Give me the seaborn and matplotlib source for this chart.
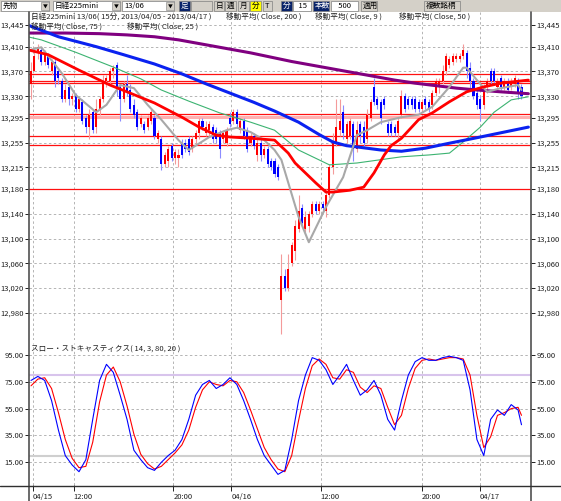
import numpy as np
import pandas as pd
import seaborn as sns
import matplotlib.pyplot as plt
from matplotlib.patches import Rectangle
from matplotlib.lines import Line2D

# 15 min bars of 日経225mini 13/06, visible window 04/15 - 04/17
opens = [13350, 13370, 13400, 13405, 13385, 13395, 13370, 13385, 13370, 13355,
         13325, 13345, 13325, 13330, 13310, 13320, 13295, 13280, 13305, 13280,
         13310, 13325, 13355, 13355, 13370, 13380, 13345, 13325, 13350, 13340,
         13315, 13305, 13285, 13285, 13280, 13290, 13295, 13260, 13260, 13220,
         13225, 13250, 13230, 13230, 13255, 13255, 13260, 13245, 13260, 13270,
         13290, 13270, 13275, 13280, 13275, 13270, 13260, 13255, 13295, 13290,
         13305, 13275, 13290, 13275, 13255, 13265, 13235, 13255, 13235, 13245,
         13225, 13225, 13215, 13000, 13040, 13020, 13060, 13080, 13115, 13150,
         13115, 13120, 13140, 13155, 13145, 13155, 13145, 13170, 13215, 13255,
         13275, 13305, 13260, 13265, 13285, 13245, 13285, 13280, 13260, 13295,
         13345, 13325, 13320, 13325, 13285, 13285, 13280, 13270, 13300, 13330,
         13325, 13325, 13325, 13320, 13310, 13325, 13320, 13315, 13335, 13345,
         13355, 13370, 13380, 13385, 13390, 13390, 13395, 13400, 13375, 13355,
         13335, 13325, 13315, 13345, 13370, 13370, 13345, 13360, 13345, 13355,
         13345, 13350, 13355, 13345]
highs = [13385, 13410, 13415, 13410, 13405, 13400, 13390, 13390, 13375, 13360,
         13350, 13350, 13335, 13335, 13325, 13325, 13300, 13310, 13310, 13325,
         13330, 13365, 13365, 13375, 13380, 13385, 13350, 13355, 13365, 13350,
         13325, 13310, 13300, 13290, 13300, 13310, 13300, 13275, 13265, 13240,
         13250, 13255, 13245, 13245, 13260, 13260, 13265, 13265, 13275, 13295,
         13295, 13290, 13290, 13285, 13280, 13275, 13275, 13280, 13305, 13310,
         13310, 13295, 13295, 13280, 13270, 13270, 13265, 13260, 13250, 13250,
         13230, 13230, 13220, 13075, 13050, 13075, 13095, 13130, 13170, 13155,
         13145, 13145, 13160, 13160, 13160, 13160, 13180, 13220, 13270, 13325,
         13325, 13315, 13290, 13295, 13290, 13290, 13290, 13290, 13310, 13325,
         13360, 13330, 13325, 13330, 13290, 13290, 13285, 13295, 13340, 13335,
         13330, 13330, 13330, 13325, 13325, 13330, 13325, 13340, 13360, 13360,
         13380, 13400, 13395, 13400, 13400, 13400, 13415, 13405, 13385, 13360,
         13345, 13330, 13350, 13360, 13375, 13375, 13360, 13365, 13360, 13360,
         13360, 13365, 13360, 13350]
lows = [13325, 13370, 13390, 13380, 13380, 13375, 13365, 13345, 13350, 13320,
        13320, 13315, 13315, 13305, 13305, 13285, 13270, 13260, 13270, 13270,
        13300, 13320, 13345, 13350, 13360, 13330, 13290, 13320, 13330, 13305,
        13295, 13275, 13280, 13270, 13275, 13285, 13260, 13255, 13210, 13215,
        13215, 13225, 13220, 13215, 13230, 13240, 13235, 13240, 13255, 13260,
        13275, 13265, 13265, 13255, 13255, 13230, 13255, 13250, 13280, 13285,
        13280, 13270, 13260, 13240, 13250, 13245, 13225, 13225, 13230, 13215,
        13210, 13200, 13195, 12945, 13015, 13015, 13055, 13065, 13110, 13120,
        13110, 13110, 13135, 13140, 13140, 13145, 13135, 13165, 13205, 13250,
        13265, 13260, 13255, 13260, 13225, 13240, 13255, 13250, 13255, 13290,
        13315, 13310, 13285, 13310, 13265, 13265, 13265, 13260, 13295, 13305,
        13310, 13310, 13305, 13305, 13305, 13310, 13305, 13310, 13330, 13335,
        13350, 13365, 13375, 13380, 13385, 13385, 13390, 13360, 13340, 13325,
        13310, 13290, 13310, 13335, 13350, 13350, 13340, 13340, 13340, 13335,
        13340, 13345, 13325, 13325]
closes = [13370, 13395, 13410, 13385, 13400, 13380, 13385, 13355, 13360, 13325,
          13340, 13325, 13330, 13310, 13325, 13290, 13280, 13300, 13275, 13310,
          13325, 13355, 13360, 13370, 13375, 13345, 13325, 13350, 13335, 13310,
          13300, 13280, 13295, 13275, 13295, 13305, 13265, 13270, 13220, 13235,
          13245, 13230, 13240, 13235, 13235, 13245, 13240, 13260, 13270, 13290,
          13280, 13280, 13285, 13260, 13260, 13245, 13270, 13275, 13285, 13305,
          13285, 13290, 13265, 13245, 13265, 13250, 13255, 13235, 13245, 13220,
          13215, 13205, 13200, 13040, 13020, 13050, 13090, 13120, 13145, 13125,
          13135, 13140, 13155, 13145, 13155, 13150, 13170, 13215, 13255, 13280,
          13290, 13270, 13285, 13290, 13245, 13275, 13265, 13255, 13300, 13320,
          13320, 13315, 13295, 13315, 13270, 13270, 13270, 13290, 13330, 13310,
          13315, 13315, 13310, 13310, 13320, 13315, 13310, 13335, 13355, 13355,
          13370, 13395, 13390, 13395, 13395, 13395, 13405, 13370, 13355, 13330,
          13315, 13310, 13345, 13355, 13355, 13355, 13355, 13345, 13355, 13340,
          13355, 13360, 13335, 13330]

# moving averages at some bars
ma200_idx = [-1, 10, 20, 28, 36, 43, 50, 57, 64, 70, 76, 82, 88, 94, 100, 106, 112, 118, 124, 130, 137, 145]
ma200 = [13432, 13432, 13431, 13429, 13426, 13421, 13414, 13407, 13400, 13393, 13386,
         13380, 13374, 13368, 13362, 13356, 13351, 13347, 13343, 13340, 13337, 13334]
ma75_idx = [-1, 8, 19, 27, 36, 44, 51, 58, 65, 71, 78, 84, 88, 92, 95, 102, 108, 115, 122, 131, 145]
ma75 = [13445, 13426, 13410, 13397, 13382, 13366, 13350, 13335, 13320, 13306, 13288, 13268,
        13256, 13250, 13248, 13243, 13241, 13246, 13254, 13264, 13280]
ma50_idx = [-1, 3, 13, 24, 32, 38, 46, 55, 64, 71, 78, 87, 95, 108, 116, 122, 126, 131, 135, 140, 145]
ma50 = [13426, 13421, 13401, 13377, 13358, 13340, 13322, 13303, 13288, 13275, 13243, 13219,
        13222, 13232, 13235, 13238, 13256, 13280, 13304, 13324, 13329]
ma25_idx = [-1, 5, 14, 23, 28, 36, 44, 49, 54, 58, 64, 71, 75, 77, 80, 83, 86, 88, 93, 97,
            100, 103, 105, 108, 113, 117, 122, 127, 132, 137, 145]
ma25 = [13405, 13397, 13372, 13348, 13337, 13319, 13296, 13280, 13267, 13264, 13262, 13259,
        13238, 13222, 13206, 13190, 13175, 13175, 13178, 13183, 13206, 13235, 13250, 13262,
        13292, 13303, 13321, 13337, 13345, 13351, 13356]
ma9_idx = [0, 3, 6, 9, 13, 19, 22, 26, 30, 34, 38, 43, 46, 52, 57, 60, 64, 68, 71, 73, 78, 81,
           86, 91, 95, 98, 102, 108, 113, 117, 122, 126, 127, 130, 133, 137, 142, 143]
ma9 = [13405, 13409, 13388, 13367, 13332, 13304, 13316, 13348, 13343, 13316, 13292, 13259, 13243,
       13264, 13275, 13279, 13272, 13259, 13243, 13227, 13135, 13094, 13151, 13199, 13267, 13275,
       13288, 13296, 13300, 13313, 13345, 13376, 13376, 13356, 13337, 13343, 13348, 13340]

# slow stochastic (14, 3)
stoch_idx = list(range(0, 143, 2)) + [143]
stoch_k = [76, 79, 76, 61, 39, 20, 13, 8, 17, 47, 76, 88, 82, 65, 47, 24, 17, 11, 9, 15,
           20, 24, 32, 47, 65, 73, 76, 70, 73, 78, 73, 61, 47, 32, 20, 13, 6, 9, 32, 61,
           80, 93, 91, 84, 73, 80, 88, 76, 65, 69, 76, 65, 47, 39, 61, 80, 90, 93, 91, 91,
           93, 94, 93, 91, 69, 32, 20, 47, 54, 50, 58, 54, 43]
stoch_d = [72, 77, 78, 70, 52, 32, 18, 11, 12, 30, 60, 80, 86, 75, 57, 36, 21, 14, 10, 12,
           17, 22, 28, 39, 56, 69, 75, 73, 72, 76, 75, 67, 54, 40, 26, 17, 10, 8, 20, 46,
           70, 87, 92, 88, 78, 77, 84, 82, 71, 67, 72, 70, 56, 43, 50, 70, 85, 91, 92, 91,
           92, 93, 93, 92, 80, 50, 26, 34, 50, 52, 55, 56, 50]

price_ticks = [13445, 13410, 13370, 13330, 13295, 13255, 13215, 13180, 13140, 13100, 13060, 13020, 12980]
stoch_ticks = [95, 75, 55, 35, 15]
time_pos = [0.6, 12.4, 41.5, 58.4, 84.5, 114.0, 130.9]
time_labels = ["04/15", "12:00", "20:00", "04/16", "12:00", "20:00", "04/17"]
red_levels = [13366, 13355, 13351, 13301, 13266, 13251, 13180]
pink_level = 13296

sns.set_theme(style="white")
plt.rcParams["font.family"] = ["Noto Sans CJK JP", "DejaVu Sans"]
plt.rcParams["axes.unicode_minus"] = False

W, H = 561, 501
fig = plt.figure(figsize=(W / 100, H / 100), dpi=100)
fig.patch.set_facecolor("white")


def fx(x):
    return x / W


def fy(y):
    return 1 - y / H


ax = fig.add_axes([fx(29), fy(340), fx(531) - fx(29), fy(12) - fy(340)])
ax2 = fig.add_axes([fx(29), fy(485), fx(531) - fx(29), fy(343) - fy(485)], sharex=ax)

grid_kw = dict(color="#b4b4b4", lw=0.7, ls=(0, (2.5, 2.5)), zorder=0)
for a in (ax, ax2):
    a.set_facecolor("white")
    for s in a.spines.values():
        s.set_visible(False)
    for t in time_pos:
        a.axvline(t, **grid_kw)

# price panel
df = pd.DataFrame({"o": opens, "h": highs, "l": lows, "c": closes})
df["i"] = np.arange(len(df))
up = df["c"] >= df["o"]
dn = ~up

for v in price_ticks:
    ax.axhline(v, **grid_kw)
for v in red_levels:
    ax.axhline(v, color="#ff1010", lw=0.9, zorder=1)
ax.axhline(pink_level, color="#ffb0b0", lw=2.2, zorder=1)

ax.vlines(df["i"][up], df["l"][up], df["h"][up], color="#f49a9a", lw=0.8, zorder=2)
ax.vlines(df["i"][dn], df["l"][dn], df["h"][dn], color="#8c8cff", lw=0.8, zorder=2)
ax.bar(df["i"][up], np.maximum((df["c"] - df["o"])[up], 2), bottom=df["o"][up],
       width=0.6, color="#ff0000", lw=0, zorder=2.5)
ax.bar(df["i"][dn], np.maximum((df["o"] - df["c"])[dn], 2), bottom=df["c"][dn],
       width=0.6, color="#0000ff", lw=0, zorder=2.5)

sns.lineplot(x=ma50_idx, y=ma50, ax=ax, color="#3cb371", lw=0.8, zorder=3)
sns.lineplot(x=ma200_idx, y=ma200, ax=ax, color="#800080", lw=2.2, zorder=3)
sns.lineplot(x=ma75_idx, y=ma75, ax=ax, color="#0a22f0", lw=2.2, zorder=3)
sns.lineplot(x=ma9_idx, y=ma9, ax=ax, color="#a8a8a8", lw=1.5, zorder=3)
sns.lineplot(x=ma25_idx, y=ma25, ax=ax, color="#ff0000", lw=2.0, zorder=3)

ax.set_xlim(-0.58, 145.77)
ax.set_ylim(12936, 13466)
ax.set_yticks(price_ticks)
ax.set_yticklabels([f"{v:,}" for v in price_ticks])
ax.set_xticks(time_pos)
ax.tick_params(axis="x", bottom=False, labelbottom=False)
ax.tick_params(axis="y", left=True, right=True, labelleft=True, labelright=True,
               length=3, width=0.7, pad=1, labelsize=5.5, colors="#202020")
ax.set_xlabel("")
ax.set_ylabel("")

# stochastic panel
for v in stoch_ticks:
    ax2.axhline(v, **grid_kw)
ax2.axhline(80, color="#d8c4ec", lw=1.5, zorder=1)
ax2.axhline(20, color="#cfcfcf", lw=1.5, zorder=1)
sns.lineplot(x=stoch_idx, y=stoch_d, ax=ax2, color="#ff0000", lw=0.8, zorder=3)
sns.lineplot(x=stoch_idx, y=stoch_k, ax=ax2, color="#0000ff", lw=0.8, zorder=3)
ax2.set_ylim(-1.9, 103.9)
ax2.set_yticks(stoch_ticks)
ax2.set_yticklabels([f"{v:.2f}" for v in stoch_ticks])
ax2.tick_params(axis="y", left=True, right=True, labelleft=True, labelright=True,
                length=3, width=0.7, pad=1, labelsize=5.5, colors="#202020")
ax2.set_xticks(time_pos)
ax2.set_xticklabels(time_labels)
ax2.tick_params(axis="x", bottom=True, length=4, width=0.7, pad=2, labelsize=5.5, colors="#202020")
for lab in ax2.get_xticklabels():
    lab.set_ha("left")
ax2.set_xlabel("")
ax2.set_ylabel("")

# frame lines
fig.add_artist(Line2D([fx(29), fx(29)], [fy(12), 0], color="#505050", lw=1.2))
fig.add_artist(Line2D([fx(531), fx(531)], [fy(12), 0], color="#505050", lw=1.2))
fig.add_artist(Line2D([0, 1], [fy(486), fy(486)], color="#303030", lw=1.0))

# header texts
tk = dict(fontsize=5.5, color="#202020", va="center", ha="left")
fig.text(fx(31), fy(17), "日経225mini 13/06( 15分, 2013/04/05 - 2013/04/17 )", **tk)
fig.text(fx(226), fy(17), "移動平均( Close, 200 )", **tk)
fig.text(fx(315), fy(17), "移動平均( Close, 9 )", **tk)
fig.text(fx(399), fy(17), "移動平均( Close, 50 )", **tk)
fig.text(fx(31), fy(27), "移動平均( Close, 75 )", **tk)
fig.text(fx(127), fy(27), "移動平均( Close, 25 )", **tk)
fig.text(fx(31), fy(349), "スロー・ストキャスティクス( 14, 3, 80, 20 )", **tk)

# toolbar
fig.add_artist(Rectangle((0, fy(12)), 1, 1 - fy(12), transform=fig.transFigure,
                         fc="#d4d0c8", ec="none"))


def widget(x0, x1, label, fc="#d4d0c8", tc="#000000", arrow=False):
    fig.add_artist(Rectangle((fx(x0), fy(11)), fx(x1) - fx(x0), fy(1) - fy(11),
                             transform=fig.transFigure, fc=fc, ec="#808080", lw=0.5))
    fig.text(fx(x0 + 2), fy(6), label, fontsize=5.5, color=tc, va="center", ha="left")
    if arrow:
        fig.add_artist(Rectangle((fx(x1 - 8), fy(10)), fx(8), fy(2) - fy(10),
                                 transform=fig.transFigure, fc="#d4d0c8", ec="#808080", lw=0.4))
        fig.text(fx(x1 - 4), fy(6), "▼", fontsize=3.5, color="#000000", va="center", ha="center")


widget(1, 49, "先物", fc="white", arrow=True)
widget(53, 120, "日経225mini", fc="white", arrow=True)
widget(122, 174, "13/06", fc="white", arrow=True)
widget(179, 190, "足", fc="#0a246a", tc="white")
widget(191, 212, "", fc="#d4d0c8")
widget(214, 224, "日")
widget(225, 236, "週")
widget(238, 249, "月")
widget(250, 261, "分", fc="#ffff00")
widget(263, 272, "T")
widget(281, 292, "分", fc="#0a246a", tc="white")
widget(293, 311, "  15", fc="white")
widget(313, 329, "本数", fc="#0a246a", tc="white")
widget(331, 358, "   500", fc="white")
widget(361, 377, "適用")
widget(424, 460, "複数銘柄")

fig.savefig("out.png", dpi=100, facecolor="white")
